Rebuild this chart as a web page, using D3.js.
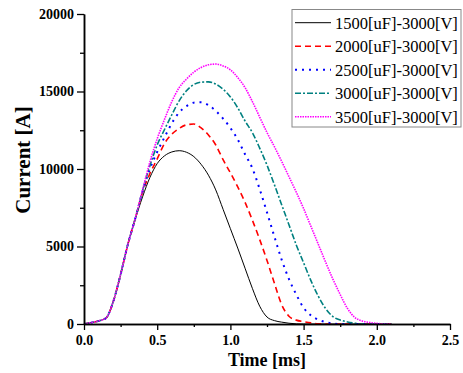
<!DOCTYPE html>
<html>
<head>
<meta charset="utf-8">
<script src="https://cdn.jsdelivr.net/npm/d3@7"></script>
<style>
  body { margin: 0; background: #fff; }
  svg { display: block; }
  .tick text { font-family: "Liberation Serif", "Times New Roman", serif; font-weight: bold; font-size: 14px; fill: #000; }
</style>
</head>
<body>
<svg id="chart" width="463" height="373"></svg>
<script>
// time grid in ms (step 0.05)
const time = d3.range(0, 43).map(i => +(i * 0.05).toFixed(2));

const seriesNames = ['1500[uF]-3000[V]', '2000[uF]-3000[V]', '2500[uF]-3000[V]', '3000[uF]-3000[V]', '3500[uF]-3000[V]'];

const i1500 = [0, 90, 200, 380, 1450, 3200, 5150, 6750, 8200, 9450, 10350, 10850, 11100, 11180, 11080, 10800, 10300, 9600, 8650, 7400,
  6150, 4900, 3600, 2300, 1150, 450, 220, 120, 50, 10, 0, 0, 0, 0, 0, 0, 0, 0, 0, 0, 0, 0, 0];
const i2000 = [0, 90, 200, 380, 1450, 3200, 5150, 6800, 8500, 9700, 10650, 11650, 12250, 12620, 12850, 12900, 12650, 12200, 11550, 10600,
  9750, 8850, 7850, 6700, 5450, 4100, 2650, 1250, 500, 250, 150, 70, 20, 0, 0, 0, 0, 0, 0, 0, 0, 0, 0];
const i2500 = [0, 90, 200, 380, 1450, 3200, 5150, 6800, 8550, 10000, 11100, 12050, 12950, 13650, 14050, 14280, 14300, 14120, 13750, 13250,
  12650, 11900, 10950, 10050, 8700, 7200, 5650, 4150, 2900, 1900, 1050, 550, 280, 130, 40, 0, 0, 0, 0, 0, 0, 0, 0];
const i3000 = [0, 90, 200, 380, 1450, 3200, 5150, 6800, 8600, 10200, 11550, 12550, 13500, 14400, 15050, 15450, 15600, 15620, 15480, 15150,
  14650, 13950, 13100, 12350, 11350, 10250, 9000, 7700, 6400, 5100, 3950, 2800, 1800, 1000, 480, 260, 130, 50, 0, 0, 0, 0, 0];
const i3500 = [0, 90, 200, 380, 1450, 3200, 5150, 6800, 8650, 10450, 11950, 13200, 14350, 15250, 15800, 16250, 16550, 16720, 16770, 16650,
  16400, 15900, 15250, 14350, 13350, 12350, 11450, 10500, 9500, 8500, 7450, 6300, 5150, 4000, 2900, 1900, 1000, 420, 200, 100, 40, 0, 0];

const xTicks = [0, 0.5, 1.0, 1.5, 2.0, 2.5];
const yTicks = [0, 5000, 10000, 15000, 20000];

const seriesValues = [i1500, i2000, i2500, i3000, i3500];
const colors = ['#000000', '#ff0000', '#0000ff', '#008080', '#ff00ff'];
const dashes = [null, '6,4', '2,5', '6,2,2,2', '1.5,1'];
const widths = [1, 1.6, 2, 1.6, 1.6];

const svg = d3.select('#chart');
const x = d3.scaleLinear().domain([0, 2.5]).range([84, 450]);
const y = d3.scaleLinear().domain([0, 20000]).range([324, 14]);

// curves
const line = d3.line()
  .x(d => x(d[0]))
  .y(d => y(d[1]))
  .curve(d3.curveMonotoneX);

seriesValues.forEach((vals, k) => {
  svg.append('path')
    .datum(time.map((t, i) => [t, vals[i]]))
    .attr('fill', 'none')
    .attr('stroke', colors[k])
    .attr('stroke-width', widths[k])
    .attr('stroke-dasharray', dashes[k])
    .attr('d', line);
});

// axes
const xAxis = svg.append('g')
  .attr('transform', 'translate(0,324)')
  .call(d3.axisBottom(x).tickValues(xTicks).tickFormat(d3.format('.1f')).tickSize(6).tickSizeOuter(0).tickPadding(5));
svg.append('g')
  .attr('transform', 'translate(0,324)')
  .call(d3.axisBottom(x).tickValues(d3.range(0.25, 2.5, 0.5)).tickFormat('').tickSize(3).tickSizeOuter(0));

const yAxis = svg.append('g')
  .attr('transform', 'translate(84,0)')
  .call(d3.axisLeft(y).tickValues(yTicks).tickFormat(d3.format('d')).tickSize(7).tickSizeOuter(0).tickPadding(3));
svg.append('g')
  .attr('transform', 'translate(84,0)')
  .call(d3.axisLeft(y).tickValues(d3.range(2500, 20000, 5000)).tickFormat('').tickSize(4).tickSizeOuter(0));

svg.selectAll('.domain').attr('stroke', '#000').attr('stroke-width', 1.5);
svg.selectAll('.tick line').attr('stroke', '#000').attr('stroke-width', 1.3);

// axis titles
svg.append('text')
  .attr('x', 267).attr('y', 366)
  .attr('text-anchor', 'middle')
  .style('font-family', '"Liberation Serif", serif')
  .style('font-weight', 'bold')
  .style('font-size', '18px')
  .text('Time [ms]');

svg.append('text')
  .attr('transform', 'translate(30,160) rotate(-90)')
  .attr('text-anchor', 'middle')
  .style('font-family', '"Liberation Serif", serif')
  .style('font-weight', 'bold')
  .style('font-size', '21px')
  .text('Current [A]');

// legend
const legend = svg.append('g');
legend.append('rect')
  .attr('x', 292).attr('y', 9.5)
  .attr('width', 169).attr('height', 117.5)
  .attr('fill', '#fff')
  .attr('stroke', '#888')
  .attr('stroke-width', 1);

seriesNames.forEach((name, k) => {
  const cy = 22.7 + k * 23.5;
  legend.append('line')
    .attr('x1', 295).attr('x2', 331)
    .attr('y1', cy).attr('y2', cy)
    .attr('stroke', colors[k])
    .attr('stroke-width', widths[k])
    .attr('stroke-dasharray', dashes[k]);
  legend.append('text')
    .attr('x', 335).attr('y', cy + 6)
    .style('font-family', '"Liberation Serif", serif')
    .style('font-size', '16.5px')
    .text(name);
});
</script>
</body>
</html>
